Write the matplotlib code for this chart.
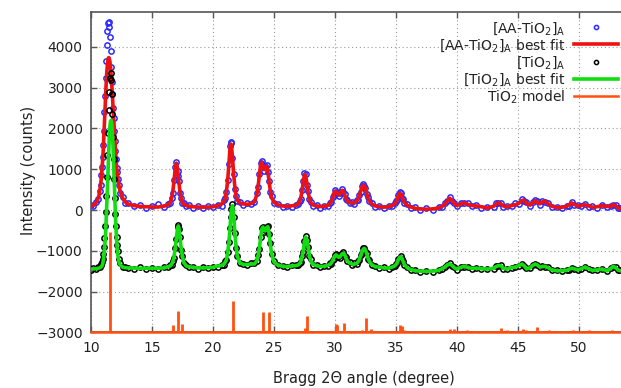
import numpy as np
import matplotlib.pyplot as plt

# 2-theta positions (degree)
two_theta = [
    10.0, 10.2, 10.4, 10.6, 10.7, 10.8, 10.85, 10.9, 10.95, 11.0, 11.05, 11.1, 11.15,
    11.2, 11.25, 11.3, 11.35, 11.4, 11.45, 11.5, 11.55, 11.6, 11.65, 11.7, 11.75, 11.8,
    11.85, 11.9, 11.95, 12.0, 12.05, 12.1, 12.15, 12.2, 12.3, 12.4, 12.6, 12.8, 13.0,
    13.5, 14.0, 14.5, 15.0, 15.5, 16.0, 16.3, 16.5, 16.6, 16.7, 16.8, 16.9, 17.0, 17.1,
    17.15, 17.2, 17.3, 17.4, 17.5, 17.6, 17.8, 18.0, 18.4, 18.8, 19.2, 19.6, 20.0, 20.4,
    20.7, 20.9, 21.0, 21.1, 21.2, 21.3, 21.4, 21.45, 21.5, 21.6, 21.7, 21.8, 21.9, 22.0,
    22.2, 22.5, 22.8, 23.1,
    23.4, 23.6, 23.7, 23.8, 23.9, 24.0, 24.1, 24.2, 24.3, 24.4, 24.5, 24.6, 24.7, 24.8,
    25.0, 25.3, 25.7, 26.1, 26.5,
    26.8, 27.0, 27.1, 27.2, 27.3, 27.4, 27.5, 27.6, 27.7, 27.8, 27.9, 28.0, 28.2, 28.5,
    28.8, 29.1, 29.4,
    29.6, 29.7, 29.8, 29.9, 30.0, 30.1, 30.2, 30.3, 30.4, 30.5, 30.6, 30.7, 30.8, 30.9,
    31.0, 31.2, 31.4, 31.6, 31.8, 31.9, 32.0, 32.1, 32.2, 32.3, 32.4, 32.5, 32.6, 32.7,
    32.8, 33.0, 33.3, 33.6, 34.0, 34.4,
    34.7, 34.9, 35.0, 35.1, 35.2, 35.3, 35.4, 35.5, 35.6, 35.7, 35.9, 36.2, 36.6, 37.0,
    37.5, 38.0, 38.5, 38.8, 39.0, 39.2, 39.4, 39.6, 39.8, 40.0, 40.3, 40.6, 40.9, 41.2,
    41.6, 42.0, 42.5, 43.0, 43.2, 43.4, 43.6, 43.8, 44.1, 44.5, 44.8, 45.1, 45.3, 45.5,
    45.7, 46.0, 46.2, 46.4, 46.6, 46.8, 47.0, 47.2, 47.5, 47.8, 48.2, 48.6, 49.0, 49.2,
    49.4, 49.6, 49.9, 50.2, 50.5, 50.8, 51.1, 51.5, 51.9, 52.3, 52.6, 52.8, 53.0, 53.2,
    53.4,
]

# [AA-TiO2]A measured counts
aa_obs = [
    130, 100, 190, 260, 460, 620, 860, 1050, 1300, 1600, 1950, 2400, 2800, 3250, 3650,
    4050, 4400, 4580, 4620, 4500, 4250, 3900, 3500, 3150, 2850, 2500, 2250, 1950, 1700,
    1450, 1250, 1030, 930, 760, 620, 420, 310, 170, 170,
    90, 120, 60, 110, 150, 80, 150, 170, 300, 410, 730, 1050, 1180, 960, 830, 720, 410,
    290, 170, 160, 90, 120, 60, 100, 50, 90, 70, 120,
    110, 250, 300, 430, 730, 1130, 1560, 1680, 1640, 1270, 890, 520, 340, 220, 190, 130,
    160, 140,
    190, 410, 560, 880, 1150, 1200, 1080, 960, 1080, 1110, 930, 720, 450, 340, 170, 150,
    80, 110, 70,
    130, 140, 230, 280, 500, 720, 920, 880, 610, 470, 260, 200, 100, 120, 60, 110, 90,
    180, 190, 310, 370, 490, 430, 420, 350, 420, 440, 510, 430, 390, 270, 250, 170, 200,
    150, 240, 250, 380, 430, 580, 630, 590, 540, 390, 330, 210, 170, 80, 100, 50, 100,
    90, 170, 210, 240, 380, 430, 410, 300, 260, 160, 140, 60, 70, 10, 50, 10, 70, 80,
    170, 210, 320, 220, 170, 90, 180, 160, 170, 90, 130, 60, 80, 70, 160, 170, 180, 80,
    100, 90, 160, 150, 260, 230, 190, 100, 200, 240, 210, 130, 230, 200, 170, 70, 80,
    40, 110, 110, 190, 130, 120, 90, 150, 80, 90, 60, 130, 70, 110, 120, 130, 40, 50,
]

# [AA-TiO2]A refined profile
aa_fit = [
    90, 120, 170, 290, 420, 650, 800, 1000, 1200, 1450, 1800, 2150, 2500, 2850, 3150,
    3400, 3580, 3700, 3740, 3720, 3640, 3500, 3320, 3100, 2830, 2550, 2280, 2000, 1750,
    1500, 1250, 1050, 900, 780, 590, 450, 290, 200, 150,
    110, 90, 80, 75, 72, 95, 125, 185, 270, 436, 696, 998, 1150, 998, 848, 696, 436, 270,
    185, 145, 110, 95, 80, 72, 70, 72, 80, 110,
    146, 212, 281, 457, 702, 1100, 1528, 1620, 1605, 1299, 855, 549, 320, 240, 173, 148,
    140, 155,
    202, 379, 578, 841, 1108, 1168, 1060, 991, 1047, 1076, 955, 698, 475, 318, 188, 131,
    100, 85, 105,
    116, 153, 202, 299, 469, 688, 874, 850, 639, 445, 283, 185, 125, 102, 85, 91, 109,
    160, 210, 290, 390, 460, 450, 400, 375, 400, 460, 485, 450, 370, 290, 230, 185, 170,
    175, 220, 270, 350, 450, 550, 610, 600, 520, 410, 310, 230, 150, 100, 80, 70, 80,
    110, 150, 190, 260, 350, 410, 395, 320, 240, 180, 120, 75, 40, 25, 20, 25, 50, 90,
    140, 220, 290, 230, 150, 110, 150, 175, 140, 110, 100, 80, 50, 90, 140, 180, 150,
    100, 75, 110, 130, 170, 230, 240, 160, 120, 170, 230, 190, 150, 200, 220, 150, 90,
    60, 65, 90, 130, 175, 140, 100, 110, 130, 100, 70, 80, 110, 85, 90, 130, 110, 60, 30,
]

# [TiO2]A measured counts (before the vertical shift)
ti_obs = [
    40, 70, 55, 90, 100, 140, 170, 230, 300, 420, 600, 820, 1100, 1450, 1850, 2300,
    2850, 3400, 3950, 4400, 4750, 4850, 4700, 4350, 3850, 3300, 2750, 2250, 1800, 1400,
    1100, 850, 650, 500, 300, 200, 110, 100, 70,
    60, 90, 55, 85, 60, 95, 90, 150, 150, 240, 330, 570, 800, 1090, 1130, 1040, 830,
    530, 360, 200, 145, 95, 105, 60, 95, 70, 110, 105,
    160, 160, 240, 270, 460, 720, 1050, 1330, 1520, 1640, 1320, 930, 560, 380, 190, 180,
    140, 190,
    200, 240, 400, 540, 840, 1060, 1090, 970, 1020, 1090, 1110, 900, 680, 410, 240, 140,
    130, 95, 140,
    160, 140, 210, 220, 370, 480, 740, 860, 760, 600, 380, 290, 150, 150, 100, 135, 125,
    190, 180, 270, 300, 400, 420, 350, 360, 330, 410, 420, 460, 380, 340, 240, 220, 160,
    190, 180, 250, 280, 390, 450, 560, 580, 500, 450, 310, 270, 140, 130, 80, 100, 60,
    110, 120, 180, 200, 300, 330, 370, 300, 240, 150, 100, 30, 20, -10, 10, -15, 30, 50,
    110, 140, 195, 130, 90, 40, 100, 110, 100, 60, 80, 50, 60, 60, 120, 130, 140, 60, 60,
    80, 110, 130, 180, 130, 70, 70, 150, 170, 160, 90, 120, 110, 90, 20, 20, 0, 30, 40,
    80, 50, 40, 50, 110, 50, 30, 20, 60, 0, 70, 110, 100, 20, 20,
]

# [TiO2]A refined profile (before the vertical shift)
ti_fit = [
    50, 55, 60, 70, 80, 95, 110, 130, 170, 250, 360, 500, 720, 950, 1300, 1650, 2050,
    2500, 2900, 3280, 3550, 3680, 3700, 3610, 3400, 3100, 2700, 2250, 1800, 1400, 1050,
    770, 550, 400, 220, 150, 100, 85, 80,
    75, 70, 70, 70, 72, 80, 110, 130, 165, 220, 345, 550, 815, 1070, 1105, 1070, 815,
    550, 345, 220, 130, 110, 90, 80, 80, 85, 95, 120,
    141, 176, 214, 282, 434, 693, 1073, 1300, 1483, 1605, 1346, 906, 586, 358, 204, 163,
    160, 175,
    177, 255, 373, 562, 809, 1037, 1081, 993, 997, 1069, 1090, 926, 661, 439, 226, 153,
    120, 110, 130,
    136, 156, 184, 235, 345, 500, 713, 838, 779, 580, 397, 272, 165, 134, 115, 120, 140,
    170, 200, 250, 320, 380, 400, 370, 340, 345, 390, 430, 440, 400, 320, 260, 200, 175,
    170, 195, 230, 290, 370, 460, 530, 560, 520, 430, 330, 250, 160, 110, 100, 80, 75,
    100, 130, 160, 210, 280, 340, 355, 310, 230, 160, 90, 40, 10, 0, -5, 0, 20, 60, 100,
    150, 180, 140, 80, 50, 90, 120, 90, 70, 70, 60, 50, 70, 110, 140, 130, 70, 50, 90,
    100, 140, 170, 140, 60, 80, 140, 175, 150, 100, 110, 120, 80, 30, 10, 10, 20, 50, 70,
    60, 30, 60, 100, 60, 20, 30, 50, 10, 60, 120, 90, 30, 10,
]

# TiO2 model reflections: position (degree) and intensity
model_pos = [11.58, 16.72, 17.15, 17.49, 21.61, 24.07, 24.58, 27.51, 27.71, 30.06,
             30.14, 30.76, 32.20, 32.54, 32.97, 34.72, 35.37, 35.51, 35.65, 39.18,
             39.40, 39.75, 40.80, 41.30, 41.70, 43.60, 44.07, 45.40, 45.68, 46.60,
             47.10, 47.57, 49.55, 50.80, 51.95, 52.74]
model_int = [2470, 170, 530, 200, 770, 500, 500, 100, 400, 200,
             185, 225, 65, 345, 90, 25, 170, 145, 65, 25,
             80, 90, 65, 40, 40, 105, 65, 90, 65, 135,
             30, 55, 65, 50, 30, 65]

ti_shift = -1500
model_base = -3000

assert len(two_theta) == len(aa_obs) == len(aa_fit) == len(ti_obs) == len(ti_fit)

x = np.array(two_theta)
ti_obs_s = np.array(ti_obs) + ti_shift
ti_fit_s = np.array(ti_fit) + ti_shift

txt = '#222222'
plt.rcParams['font.family'] = 'DejaVu Sans'
plt.rcParams['mathtext.fontset'] = 'dejavusans'

fig = plt.figure(figsize=(6.21, 3.88), dpi=100)
ax = fig.add_axes([91 / 621, 1 - 332.3 / 388, 530 / 621, 320 / 388])

l1, = ax.plot(x, aa_obs, 'o', ms=3.8, mfc='none', mec='#2a2aff', mew=1.1, zorder=2)
l2, = ax.plot(x, aa_fit, '-', color='#ee1111', lw=2.6, zorder=3)
l3, = ax.plot(x, ti_obs_s, 'o', ms=3.8, mfc='none', mec='black', mew=1.1, zorder=4)
l4, = ax.plot(x, ti_fit_s, '-', color='#11dd11', lw=2.6, zorder=5)

ax.vlines(model_pos, model_base, model_base + np.array(model_int),
          color='#ff5010', lw=2.0, zorder=6)
l5 = ax.axhline(model_base, color='#ff5010', lw=1.8, zorder=6, clip_on=False)

ax.set_xlim(10, 53.45)
ax.set_ylim(-3000, 4850)
ax.set_xticks(range(10, 55, 5))
ax.set_yticks(range(-3000, 5000, 1000))

ax.grid(True, linestyle=(0, (1, 2.5)), color='#999999', lw=0.8)
ax.set_axisbelow(True)
ax.tick_params(direction='in', length=4, width=1, color='#555555',
               labelsize=10, labelcolor=txt, top=True, right=False, pad=6)
ax.spines['right'].set_visible(False)
for s in ['left', 'top', 'bottom']:
    ax.spines[s].set_color('#555555')
    ax.spines[s].set_linewidth(1.2)

fig.text(28 / 621, 1 - 170 / 388, 'Intensity (counts)', rotation=90,
         ha='center', va='center', fontsize=10.5, color=txt)
fig.text(364 / 621, 1 - 378 / 388, 'Bragg 2\u0398 angle (degree)',
         ha='center', va='center', fontsize=10.5, color=txt)

labels = [r'[AA-TiO$_2$]$_\mathrm{A}$', r'[AA-TiO$_2$]$_\mathrm{A}$ best fit',
          r'[TiO$_2$]$_\mathrm{A}$', r'[TiO$_2$]$_\mathrm{A}$ best fit',
          r'TiO$_2$ model']
leg = ax.legend([l1, l2, l3, l4, l5], labels, loc='upper right',
                bbox_to_anchor=(1.0, 0.985), frameon=False, markerfirst=False,
                numpoints=1, handlelength=3.2, handletextpad=0.6,
                labelspacing=0.02, borderaxespad=0, borderpad=0.2, fontsize=10)
for t in leg.get_texts():
    t.set_color(txt)
leg.legend_handles[0].set_markersize(3)
leg.legend_handles[2].set_markersize(3)

fig.savefig('out.png', dpi=100)
